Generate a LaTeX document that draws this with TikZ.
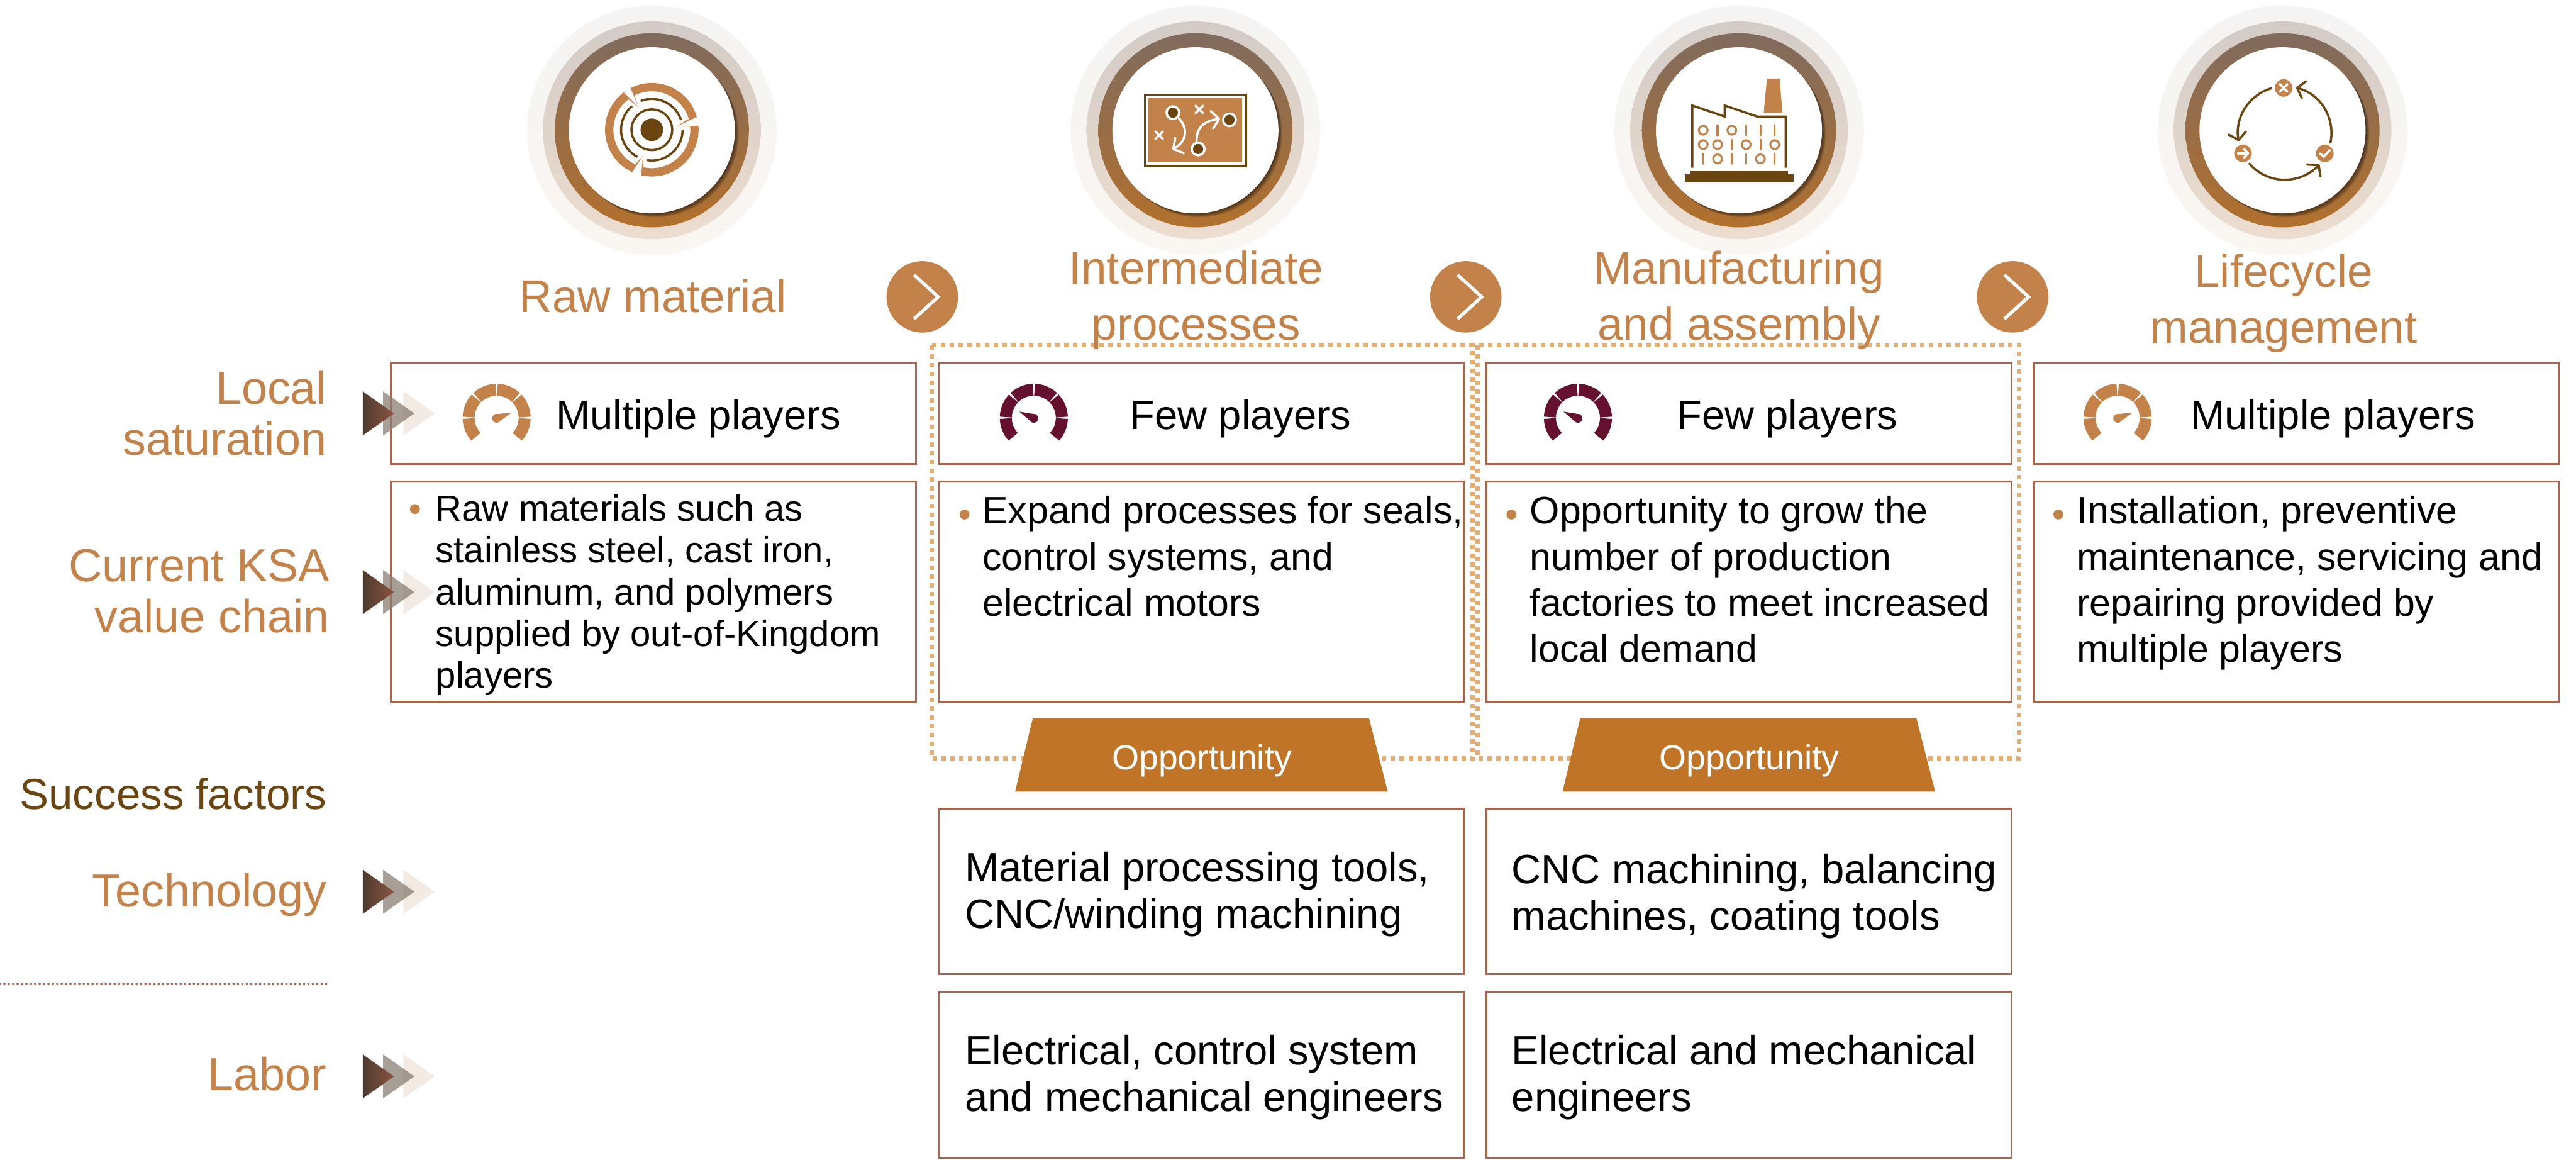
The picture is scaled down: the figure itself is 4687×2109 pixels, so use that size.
\documentclass[tikz,border=0pt]{standalone}
\usepackage{fontspec}
\setmainfont{Liberation Sans}
\usetikzlibrary{arrows.meta}
\definecolor{ochre}{HTML}{C4824B}
\definecolor{umber}{HTML}{6B4510}
\definecolor{cellline}{HTML}{A5654F}
\definecolor{dotline}{HTML}{E3AE74}
\definecolor{trapfill}{HTML}{BF7428}
\definecolor{wine}{HTML}{66102F}
\definecolor{F5col}{HTML}{F5F4F2}
\definecolor{F9col}{HTML}{FAF6F2}
\definecolor{D3col}{HTML}{D3CBC6}
\definecolor{ECcol}{HTML}{ECDDCF}
\definecolor{80col}{HTML}{806B5E}
\definecolor{B2col}{HTML}{B2702D}
\definecolor{flagtail}{HTML}{F3EBE3}
\definecolor{flagmid}{HTML}{8A7D72}
\definecolor{flagdark}{HTML}{4E3A2F}
\definecolor{flaglight}{HTML}{8A5540}
\tikzset{
    ringa/.style={circle, inner sep=0, minimum size=4.54cm, shade, shading angle=-45, top color=F5col, bottom color=F9col},
    ringb/.style={circle, inner sep=0, minimum size=3.96cm, shade, shading angle=-45, top color=D3col, bottom color=ECcol},
    ringc/.style={circle, inner sep=0, minimum size=3.53cm, shade, shading angle=-45, top color=80col, bottom color=B2col},
    ringd/.style={circle, inner sep=0, minimum size=3.02cm, fill=white},
    headtext/.style={font=\fontsize{23.7}{29}\selectfont, text=ochre, align=center, inner sep=0},
    sidetext/.style={font=\fontsize{24}{26.4}\selectfont, text=ochre, align=right, inner sep=0},
    cellbox/.style={draw=cellline, line width=1pt, inner sep=0, minimum width=9.55cm},
    lowtext/.style={align=left, inner sep=0, anchor=west, font=\fontsize{21.2}{23.9}\selectfont},
    sattext/.style={font=\fontsize{21.2}{24}\selectfont, inner sep=0, anchor=base},
    bodytext/.style={font=\fontsize{19.8}{23.8}\selectfont, align=left, inner sep=0, anchor=north west},
    bulletdot/.style={circle, fill=ochre, inner sep=0, minimum size=0.18cm},
    nextdot/.style={circle, fill=ochre, inner sep=0, minimum size=1.3cm},
    nextmark/.style={draw=white, line width=1.7pt},
    dotframe/.style={draw=dotline, line width=2.3pt, dash pattern=on 2.28pt off 2.28pt},
    opptext/.style={text=white, inner sep=0, anchor=base, font=\fontsize{18}{20}\selectfont},
    sepline/.style={draw=cellline, line width=1.3pt, line cap=round, dash pattern=on 0pt off 2.28pt},
    iconline/.style={draw=umber, line width=1.15pt},
    boardline/.style={draw=white, line width=1.15pt, line cap=round},
    tipped/.style={-{Straight Barb[length=0.13cm,width=0.32cm,round]}}
}
\newcommand{\ringstack}[2]{
    \node[ringa] (#1a) at (#2,-237) {};
    \node[ringb] (#1b) at (#2,-237) {};
    \node[ringc] (#1c) at (#2,-237) {};
    \foreach \k in {2,4,6,8,10}
        \fill[black, opacity=0.13] (#2+0.7*\k,-237-0.7*\k) circle[radius=151];
    \node[ringd] (#1d) at (#2,-237) {};
}
\newcommand{\gaugeicon}[3]{
    \foreach \a/\b in {224/180,180/135,135/90,90/45,45/0,0/-44}
        \draw[#2, line width=6.2pt] (#1,-760) ++(\a-1.5:51) arc[start angle=\a-1.5, end angle=\b+1.5, radius=51];
    \fill[#2, shift={(#1,-761)}] (0,0) circle[radius=8];
    \fill[#2, shift={(#1,-761)}] (#3+90:8) -- (#3:29) -- (#3-90:8) -- cycle;
}
\newcommand{\triflag}[1]{
    \fill[flagtail] (734,#1+40) -- (791,#1) -- (734,#1-40) -- cycle;
    \fill[flagmid, opacity=0.75] (697,#1+40) -- (754,#1) -- (697,#1-40) -- cycle;
    \shade[left color=flagdark, right color=flaglight] (660,#1+40) -- (717,#1) -- (660,#1-40) -- cycle;
}
\newcommand{\crossmark}[2]{
    \draw[boardline] (#1-7,#2-7) -- (#1+7,#2+7);
    \draw[boardline] (#1-7,#2+7) -- (#1+7,#2-7);
}
\newcommand{\opptrap}[1]{
    \fill[trapfill] (#1-307,-1307) -- (#1+305,-1307) -- (#1+339,-1440) -- (#1-339,-1440) -- cycle;
}
\begin{document}
\begin{tikzpicture}[x=0.01cm, y=0.01cm]
    \useasboundingbox (0,0) rectangle (4687,-2109);

    \ringstack{ring1}{1186}
    \ringstack{ring2}{2175}
    \ringstack{ring3}{3164}
    \ringstack{ring4}{4153}

    \begin{scope}[shift={(1186,-236)}]
        \foreach \a/\b in {117/16,5/-103,-115/-233}
            \draw[ochre, line width=4.3pt] (\a:77.5) arc[start angle=\a, end angle=\b, radius=77.5];
        \foreach \a/\tx/\ty in {127/-24/41,117/-24/41,16/45/6,5/45/6,-103/-16/-47,-115/-16/-47}
            \fill[ochre] (\a:87) -- (\tx,\ty) -- (\a:68) -- cycle;
        \foreach \a/\b in {111/18,0/-100,-118/-230}
            \draw[iconline] (\a:56) arc[start angle=\a, end angle=\b, radius=56];
        \draw[iconline] (0,0) circle[radius=37];
        \fill[umber] (0,0) circle[radius=20.5];
    \end{scope}

    \draw[iconline] (2083,-172) rectangle (2267,-302);
    \fill[ochre] (2090,-179) rectangle (2260,-295);
    \foreach \cx/\cy in {2134/205,2237/218,2180/271}
        \filldraw[fill=umber, draw=white, line width=1.15pt] (\cx,-\cy) circle[radius=11.5];
    \crossmark{2182}{-199}
    \crossmark{2109}{-246}
    \draw[boardline, tipped] (2145,-215) .. controls (2163,-235) and (2158,-258) .. (2133,-272);
    \draw[boardline, tipped] (2177,-257) .. controls (2177,-232) and (2190,-220) .. (2220,-216);

    \draw[iconline] (3079,-305) -- (3079,-192) -- (3138,-212) -- (3138,-192) -- (3197,-212) -- (3249,-212) -- (3249,-305);
    \fill[ochre] (3215,-143) -- (3238,-143) -- (3243,-205) -- (3209,-205) -- cycle;
    \fill[umber] (3075,-311) rectangle (3253,-318);
    \fill[umber] (3065,-317) rectangle (3264,-331);
    \foreach \cx/\cy in {3099/237,3151/237,3099/263,3125/263,3177/263,3229/263,3125/289,3203/289}
        \draw[ochre, line width=1pt] (\cx,-\cy) circle[radius=8];
    \foreach \cx/\cy in {3125/237,3177/237,3203/237,3229/237,3151/263,3203/263,3099/289,3151/289,3177/289,3229/289}
        \draw[ochre, line width=1pt, line cap=round] (\cx,-\cy-9) -- (\cx,-\cy+9);

    \foreach \cx/\cy in {4155/160,4230/279,4081/279}
        \fill[ochre] (\cx,-\cy) circle[radius=16];
    \crossmark{4155}{-160}
    \draw[boardline] (4072,-279) -- (4090,-279);
    \draw[boardline] (4083,-271) -- (4090,-279) -- (4083,-287);
    \draw[boardline] (4221,-279) -- (4228,-285) -- (4239,-273);
    \foreach \a/\b in {106/190,220/318,-13/76}
        \draw[iconline, tipped] (4157,-242) ++(\a:85) arc[start angle=\a, end angle=\b, radius=85];

    \node[cellbox, minimum height=1.84cm] (sat1) at (1189,-752) {};
    \node[cellbox, minimum height=1.84cm] (sat2) at (2186,-752) {};
    \node[cellbox, minimum height=1.84cm] (sat3) at (3182,-752) {};
    \node[cellbox, minimum height=1.84cm] (sat4) at (4178,-752) {};
    \node[cellbox, minimum height=4cm] (chain1) at (1189,-1076.5) {};
    \node[cellbox, minimum height=4cm] (chain2) at (2186,-1076.5) {};
    \node[cellbox, minimum height=4cm] (chain3) at (3182,-1076.5) {};
    \node[cellbox, minimum height=4cm] (chain4) at (4178,-1076.5) {};

    \draw[dotframe] (1695,-628) rectangle (2679,-1380);
    \draw[dotframe] (2689,-628) rectangle (3674,-1380);
    \opptrap{2186}
    \opptrap{3182}
    \node[opptext] (opp1) at (2187,-1400) {Opportunity};
    \node[opptext] (opp2) at (3183,-1400) {Opportunity};

    \node[cellbox, minimum height=3.01cm] (tech1) at (2186,-1621.5) {};
    \node[cellbox, minimum height=3.01cm] (tech2) at (3182,-1621.5) {};
    \node[cellbox, minimum height=3.02cm] (labor1) at (2186,-1955) {};
    \node[cellbox, minimum height=3.02cm] (labor2) at (3182,-1955) {};
    \node[lowtext] (techtext1) at (1755,-1627) {Material processing tools,\\CNC/winding machining};
    \node[lowtext] (techtext2) at (2750,-1630) {CNC machining, balancing\\machines, coating tools};
    \node[lowtext] (labortext1) at (1755,-1960) {Electrical, control system\\and mechanical engineers};
    \node[lowtext] (labortext2) at (2750,-1960) {Electrical and mechanical\\engineers};

    \node[headtext, anchor=base] (head1) at (1188,-568) {Raw material};
    \node[headtext] (head2) at (2176,-546) {Intermediate\\processes};
    \node[headtext] (head3) at (3164,-546) {Manufacturing\\and assembly};
    \node[headtext] (head4) at (4155,-552) {Lifecycle\\management};

    \foreach \name/\cx in {next1/1678,next2/2667,next3/3662}{
        \node[nextdot] (\name) at (\cx,-540) {};
        \draw[nextmark] (\name) ++(-15,40) -- ++(44,-40) -- ++(-44,-40);
    }

    \gaugeicon{903.6}{ochre}{21}
    \gaugeicon{1881}{wine}{155}
    \gaugeicon{2871}{wine}{155}
    \gaugeicon{3853}{ochre}{21}
    \node[sattext] (player1) at (1271,-781) {Multiple players};
    \node[sattext] (player2) at (2257,-781) {Few players};
    \node[sattext] (player3) at (3252,-781) {Few players};
    \node[sattext] (player4) at (4245,-781) {Multiple players};

    \node[bulletdot] (dot1) at (755,-926) {};
    \node[bulletdot] (dot2) at (1755,-936) {};
    \node[bulletdot] (dot3) at (2750,-936) {};
    \node[bulletdot] (dot4) at (3745,-936) {};
    \node[bodytext, font=\fontsize{18.9}{21.6}\selectfont] (body1) at (792,-899) {Raw materials such as\\stainless steel, cast iron,\\aluminum, and polymers\\supplied by out-of-Kingdom\\players};
    \node[bodytext] (body2) at (1787,-902) {Expand processes for seals,\\control systems, and\\electrical motors};
    \node[bodytext] (body3) at (2783,-902) {Opportunity to grow the\\number of production\\factories to meet increased\\local demand};
    \node[bodytext] (body4) at (3778,-902) {Installation, preventive\\maintenance, servicing and\\repairing provided by\\multiple players};

    \node[sidetext, anchor=east] (side1) at (595,-751) {Local\\saturation};
    \node[sidetext, anchor=east] (side2) at (600,-1075) {Current KSA\\value chain};
    \node[sidetext, anchor=base east, font=\fontsize{22.5}{26}\selectfont, text=umber] (side3) at (595,-1472) {Success factors};
    \node[sidetext, anchor=base east] (side4) at (595,-1649) {Technology};
    \node[sidetext, anchor=base east] (side5) at (595,-1984) {Labor};

    \coordinate (sepL) at (0,-1790);
    \coordinate (sepR) at (596,-1790);
    \draw[sepline] (sepL) -- (sepR);

    \triflag{-752}
    \triflag{-1077}
    \triflag{-1622}
    \triflag{-1958}
\end{tikzpicture}
\end{document}
